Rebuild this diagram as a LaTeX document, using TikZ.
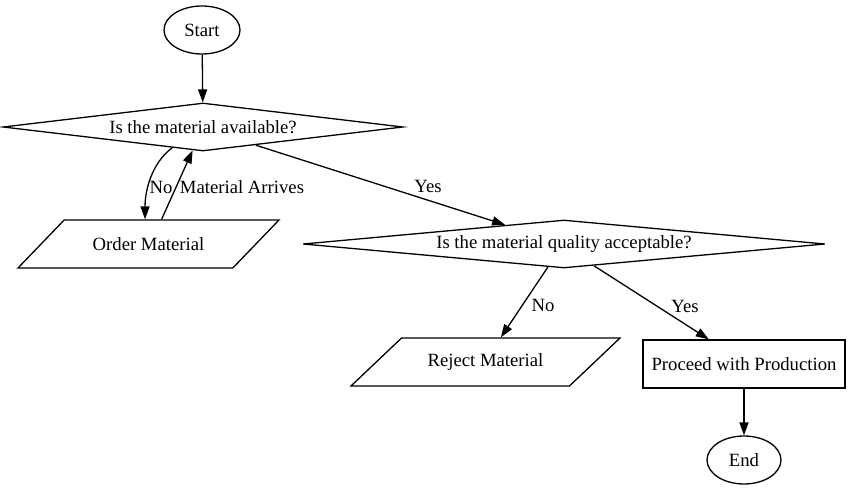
\documentclass[tikz,border=0pt]{standalone}
\usepackage{fontspec}
\setmainfont{Liberation Serif}
\usetikzlibrary{shapes.geometric,arrows.meta}
\begin{document}
\begin{tikzpicture}[x=1pt,y=-1pt,
  font=\fontsize{18.7}{22}\selectfont,
  base/.style={draw,line width=1.3pt,inner sep=0pt},
  terminal/.style={base,ellipse,minimum width=76pt,minimum height=48pt},
  decision/.style={base,diamond,minimum height=48pt},
  io/.style={base,trapezium,trapezium left angle=41,trapezium right angle=139,
    inner ysep=13.5pt,trapezium stretches body=true,minimum height=48pt},
  process/.style={base,rectangle,minimum width=202pt,minimum height=48pt},
  arr/.style={line width=1.3pt,-{Triangle[length=13pt,width=9pt]}},
  lbl/.style={inner sep=0pt}]
  \useasboundingbox (0,0) rectangle (849,489);
  \node[terminal] (start) at (202,30) {Start};
  \node[decision,aspect=8.33,minimum width=400pt] (avail) at (203,127) {Is the material available?};
  \node[io,minimum width=261pt] (order) at (148.5,244) {Order Material};
  \node[decision,aspect=10.9,minimum width=522pt] (quality) at (564,244) {Is the material quality acceptable?};
  \node[io,minimum width=269pt] (reject) at (485.5,362) {Reject Material};
  \node[process] (proceed) at (744,364) {Proceed with Production};
  \node[terminal,minimum width=74pt] (end) at (744,460) {End};
  \draw[arr] (start) -- (avail);
  \draw[arr] (avail.214) .. controls +(-20,15) and +(0,-30) .. (order.98);
  \draw[arr] (order.62) -- (avail.246);
  \draw[arr] (avail.341) -- (quality.162);
  \draw[arr] (quality.235) -- (reject.58);
  \draw[arr] (quality.324) -- (proceed.145.6);
  \draw[arr] (proceed) -- (end);
  \node[lbl] (no1) at (161,187) {No};
  \node[lbl] (arrives) at (242,187) {Material Arrives};
  \node[lbl] (yes1) at (428,186) {Yes};
  \node[lbl] (no2) at (543,305) {No};
  \node[lbl] (yes2) at (685,306) {Yes};
\end{tikzpicture}
\end{document}
